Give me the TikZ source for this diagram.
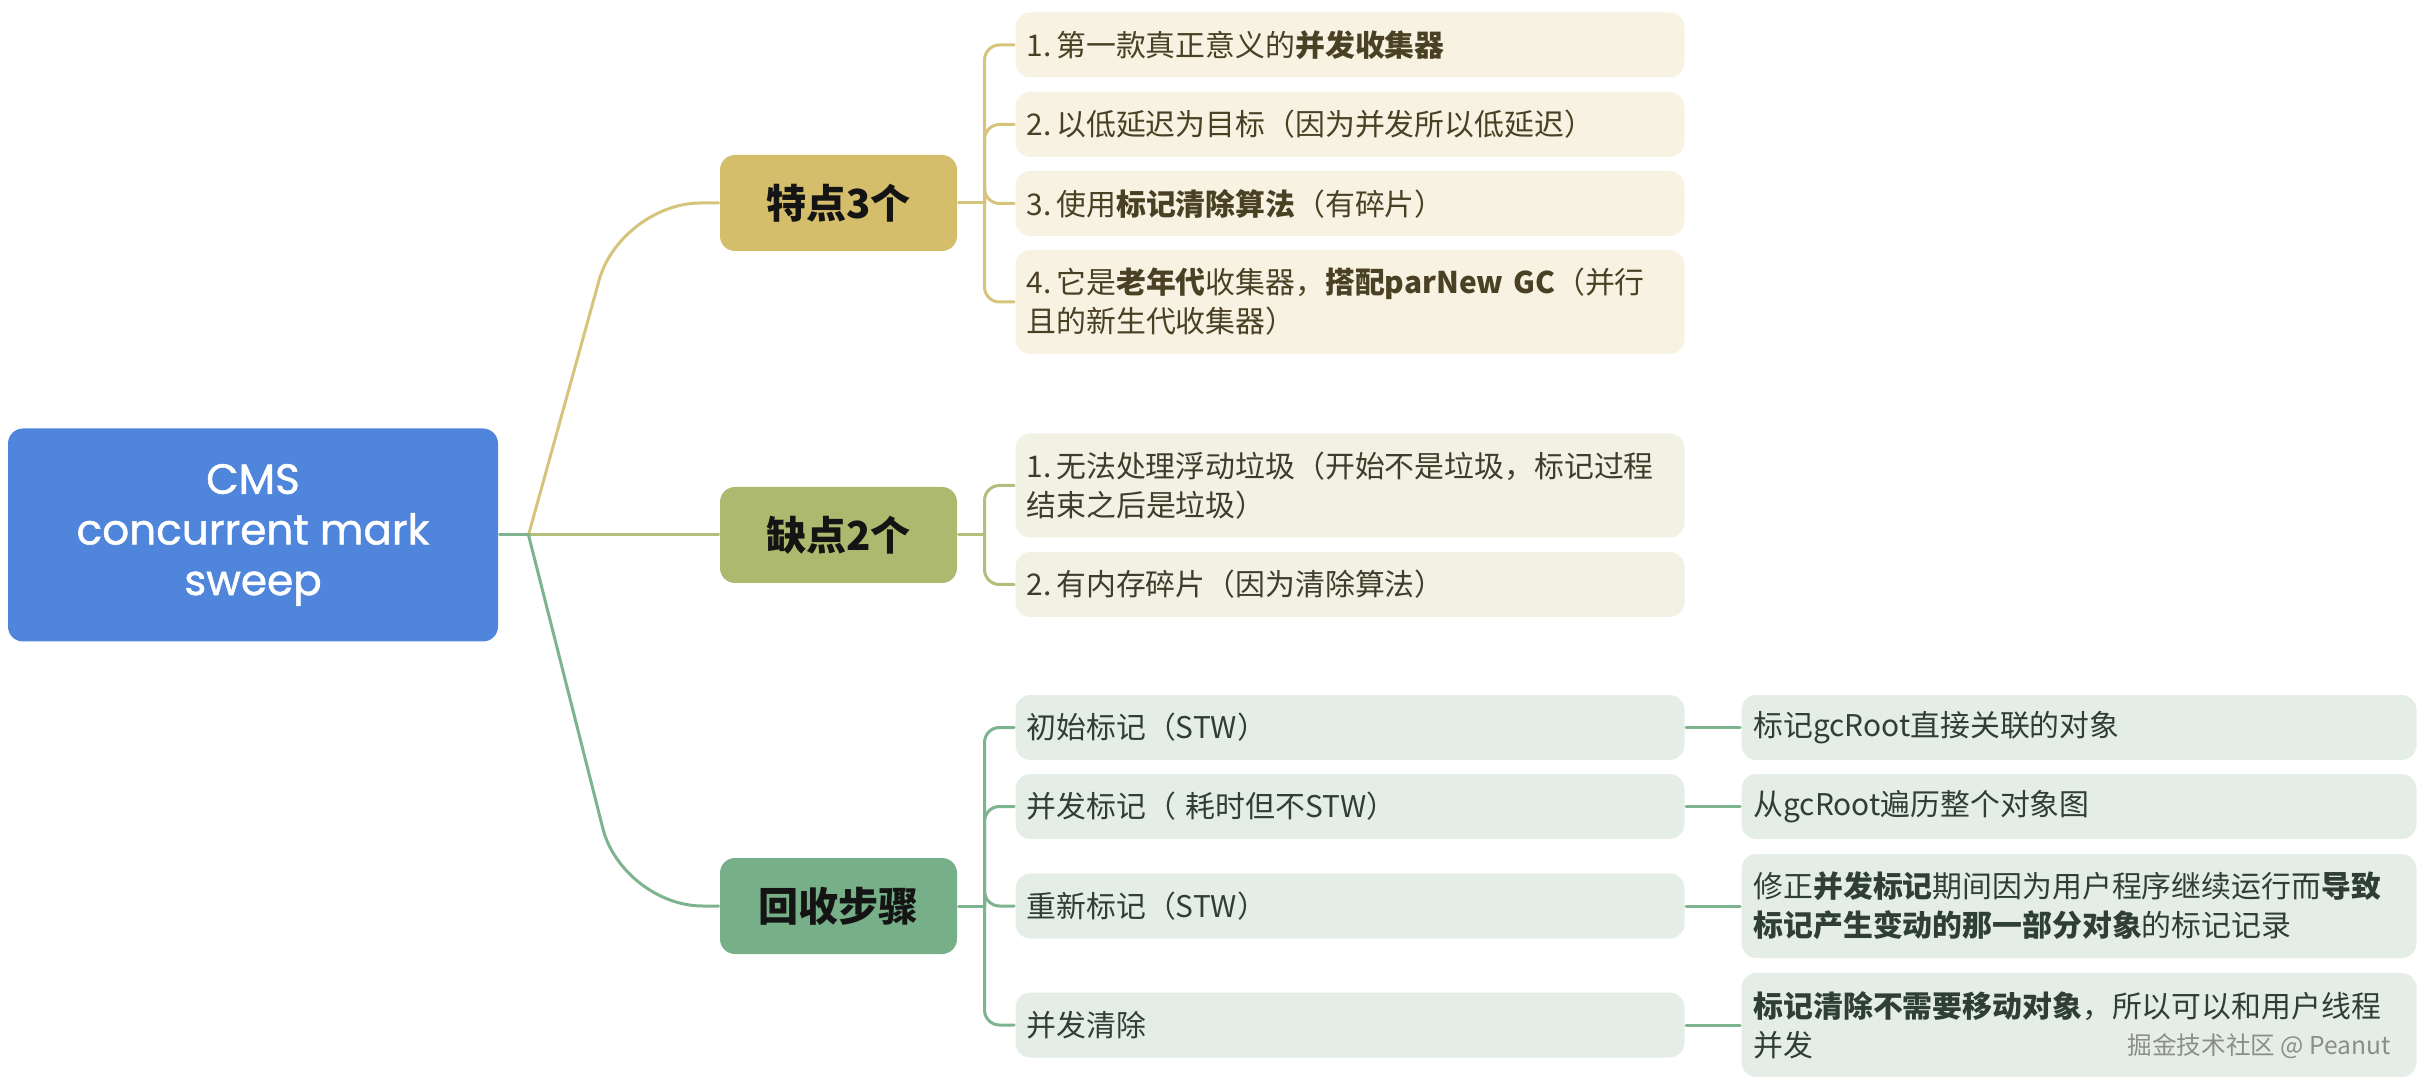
\documentclass[tikz,border=0pt]{standalone}
\usepackage{fontspec}
\setmainfont{Noto Sans CJK SC}
\newfontfamily\rootfont{Poppins}[FakeBold=1.2]
\definecolor{cmsblue}{HTML}{4F86DB}
\definecolor{goldfill}{HTML}{D4BD6B}
\definecolor{olivefill}{HTML}{ADB96E}
\definecolor{greenfill}{HTML}{77AF88}
\definecolor{goldline}{HTML}{D6C47C}
\definecolor{oliveline}{HTML}{B3BE7A}
\definecolor{greenline}{HTML}{7EB38F}
\definecolor{goldleaf}{HTML}{F7F2E2}
\definecolor{oliveleaf}{HTML}{F1F1E4}
\definecolor{greenleaf}{HTML}{E4EEE7}
\definecolor{goldtext}{HTML}{4A4024}
\definecolor{olivetext}{HTML}{3D3D2B}
\definecolor{greentext}{HTML}{2F3F35}
\usetikzlibrary{positioning}
\begin{document}
\begin{tikzpicture}[x=.1mm,y=-.1mm,line cap=round,line width=.3mm,
  box/.style={rounded corners=1.5mm,inner sep=0pt},
  topic/.style={box,minimum width=23.7mm,minimum height=9.6mm,text=black!92,
    font=\fontsize{11.4pt}{14pt}\selectfont\bfseries},
  leaf/.style={box,anchor=west,text width=64.7mm,inner xsep=1.1mm,
    minimum height=6.5mm,align=left,font=\fontsize{8.5pt}{11.1pt}\selectfont},
  far/.style={leaf,text width=65.1mm,inner xsep=1.2mm},
  tall/.style={minimum height=10.4mm}]
  \fill[white] (0,0) rectangle (2432,1088);
  \useasboundingbox (0,0) rectangle (2432,1088);

  \node[box,fill=cmsblue,text=white,minimum width=49mm,minimum height=21.3mm,align=center,
    font=\rootfont\fontsize{12pt}{14.4pt}\selectfont] (cms) at (253,535)
    {CMS\\concurrent mark\\sweep};

  \node[topic,fill=goldfill] (feat) at (838.5,203) {特点3个};
  \node[topic,fill=olivefill] (cons) at (838.5,535) {缺点2个};
  \node[topic,fill=greenfill] (steps) at (838.5,906) {回收步骤};

  \node[leaf,fill=goldleaf,text=goldtext] (f1) at (1014,45) {1.\,第一款真正意义的\textbf{并发收集器}};
  \node[leaf,fill=goldleaf,text=goldtext] (f2) at (1014,124.5) {2.\,以低延迟为目标（因为并发所以低延迟）};
  \node[leaf,fill=goldleaf,text=goldtext] (f3) at (1014,203.5) {3.\,使用\textbf{标记清除算法}（有碎片）};
  \node[leaf,tall,fill=goldleaf,text=goldtext] (f4) at (1014,302)
    {4.\,它是\textbf{老年代}收集器，\textbf{搭配parNew~GC}（并行\\且的新生代收集器）};

  \node[leaf,tall,fill=oliveleaf,text=olivetext] (c1) at (1014,485.5)
    {1.\,无法处理浮动垃圾（开始不是垃圾，标记过程\\结束之后是垃圾）};
  \node[leaf,fill=oliveleaf,text=olivetext] (c2) at (1014,584.5) {2.\,有内存碎片（因为清除算法）};

  \node[leaf,fill=greenleaf,text=greentext] (s1) at (1014,727.5) {初始标记（STW）};
  \node[leaf,fill=greenleaf,text=greentext] (s2) at (1014,806.5) {并发标记（ 耗时但不STW）};
  \node[leaf,fill=greenleaf,text=greentext] (s3) at (1014,906) {重新标记（STW）};
  \node[leaf,fill=greenleaf,text=greentext] (s4) at (1014,1025) {并发清除};

  \node[far,fill=greenleaf,text=greentext] (d1) at (1740,727.5) {标记gcRoot直接关联的对象};
  \node[far,fill=greenleaf,text=greentext] (d2) at (1740,806.5) {从gcRoot遍历整个对象图};
  \node[far,tall,fill=greenleaf,text=greentext] (d3) at (1740,906)
    {修正\textbf{并发标记}期间因为用户程序继续运行而\textbf{导致}\\\textbf{标记产生变动的那一部分对象}的标记记录};
  \node[far,tall,fill=greenleaf,text=greentext] (d4) at (1740,1025)
    {\textbf{标记清除不需要移动对象}，所以可以和用户线程\\并发};

  \node[anchor=east,text=black!45,font=\fontsize{7pt}{8pt}\selectfont] (wm) at (2404,1046)
    {掘金技术社区 @ Peanut};

  \coordinate (rb) at ([xshift=2.9mm]cms.east);
  \coordinate (fk) at ([xshift=-9.8mm]feat.west);
  \coordinate (sk) at ([xshift=-9.6mm]steps.west);
  \draw[goldline,rounded corners=8mm] (rb) -- (fk) -- (feat.west);
  \draw[oliveline] (rb) -- (cons.west);
  \draw[greenline,rounded corners=8mm] (rb) -- (sk) -- (steps.west);
  \draw[greenline] (cms.east) -- (rb);

  \coordinate (fb) at ([xshift=2.6mm]feat.east);
  \coordinate (cb) at ([xshift=2.6mm]cons.east);
  \coordinate (sb) at ([xshift=2.6mm]steps.east);
  \draw[goldline] (feat.east) -- (fb);
  \draw[oliveline] (cons.east) -- (cb);
  \draw[greenline] (steps.east) -- (sb);
  \foreach \n in {f1,f2,f3,f4}
    \draw[goldline,rounded corners=1.5mm] (fb) |- (\n.west);
  \foreach \n in {c1,c2}
    \draw[oliveline,rounded corners=1.5mm] (cb) |- (\n.west);
  \foreach \n in {s1,s2,s3,s4}
    \draw[greenline,rounded corners=1.5mm] (sb) |- (\n.west);
  \foreach \n in {1,2,3,4}
    \draw[greenline] (s\n.east) -- (d\n.west);
\end{tikzpicture}
\end{document}
